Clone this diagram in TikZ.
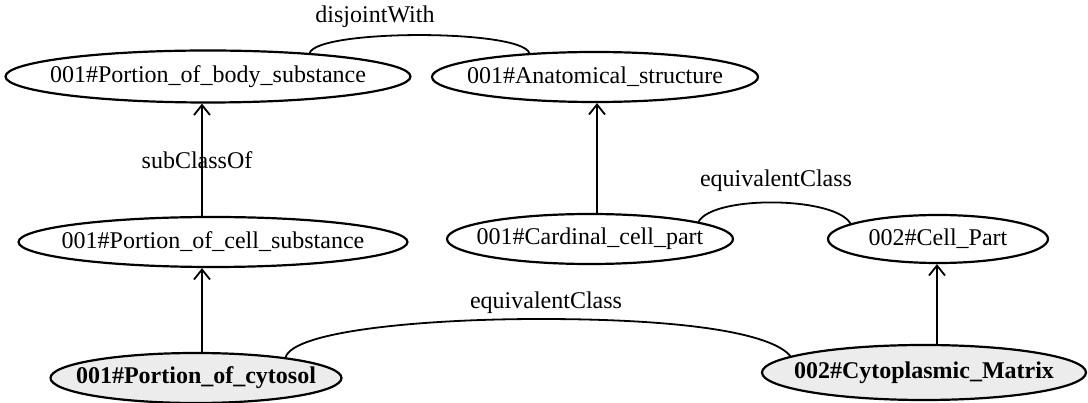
\documentclass[tikz,border=0pt]{standalone}
\usepackage{fontspec}
\setmainfont{Liberation Serif}
\usetikzlibrary{shapes.geometric,arrows.meta}
\newcommand{\nodetxt}[1]{\makebox[0pt]{#1}}
\begin{document}
\begin{tikzpicture}[x=1pt,y=-1pt,
  cls/.style={ellipse, draw, line width=2.2pt, inner sep=0pt, font=\fontsize{24}{28}\selectfont},
  inst/.style={cls, fill=gray!15, font=\fontsize{24}{28}\selectfont\bfseries},
  arr/.style={line width=1.8pt, -{Straight Barb[length=10pt,width=16pt]}},
  rel/.style={line width=1.8pt},
  lbl/.style={inner sep=0pt, font=\fontsize{24}{28}\selectfont}]
\useasboundingbox (0,0) rectangle (1088,403);
\fill[white] (0,0) rectangle (1088,403);
% nodes
\node[cls, minimum width=405, minimum height=52] (n1) at (208,76.5) {\nodetxt{001\#Portion\_of\_body\_substance}};
\node[cls, minimum width=326, minimum height=50] (n2) at (595,77) {\nodetxt{001\#Anatomical\_structure}};
\node[cls, minimum width=389, minimum height=50] (n3) at (213,242) {\nodetxt{001\#Portion\_of\_cell\_substance}};
\node[cls, minimum width=286, minimum height=50] (n4) at (590,239) {\nodetxt{001\#Cardinal\_cell\_part}};
\node[cls, minimum width=220, minimum height=48] (n5) at (938,239) {\nodetxt{002\#Cell\_Part}};
\node[inst, minimum width=291, minimum height=50] (n6) at (196,378) {\nodetxt{001\#Portion\_of\_cytosol}};
\node[inst, minimum width=324, minimum height=55] (n7) at (924,372.5) {\nodetxt{002\#Cytoplasmic\_Matrix}};
% vertical guides
\coordinate (xa) at (202,0);
\coordinate (xb) at (597,0);
\coordinate (xc) at (937,0);
\coordinate (m) at (540,319);
% subclass edges
\draw[arr] (n3.north -| xa) -- (n1.south -| xa);
\draw[arr] (n6.north -| xa) -- (n3.south -| xa);
\draw[arr] (n4.north -| xb) -- (n2.south -| xb);
\draw[arr] (n7.north -| xc) -- (n5.south -| xc);
% relation arcs
\draw[rel] (n1.13.1) .. controls +(8,-24) and +(-8,-24) .. (n2.160.6);
\draw[rel] (n4.9.2) .. controls +(15,-27) and +(-15,-27) .. (n5.170);
\draw[rel] (n6.13.6) .. controls +(8,-26) and +(-120,0) .. (m)
           .. controls +(150,0) and +(-18,-22) .. (n7.173);
% labels
\node[lbl] (l1) at (375,17) {disjointWith};
\node[lbl] (l2) at (197,160) {subClassOf};
\node[lbl] (l3) at (776,181) {equivalentClass};
\node[lbl] (l4) at (546,303) {equivalentClass};
\end{tikzpicture}
\end{document}
